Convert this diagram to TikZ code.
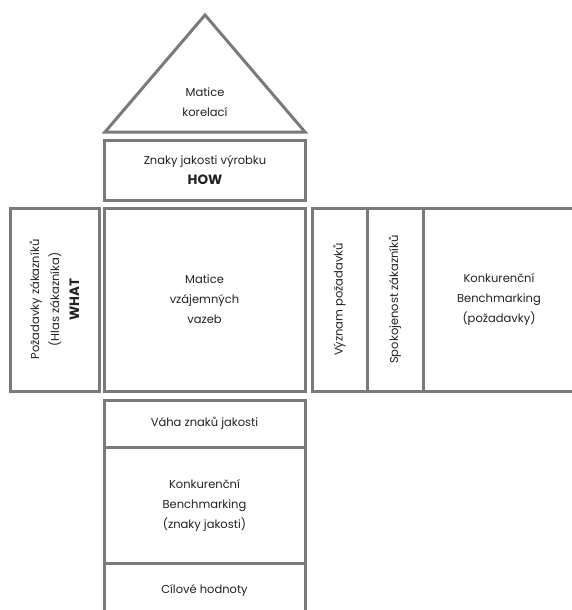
\documentclass[tikz,border=0pt]{standalone}
\usepackage{fontspec}
\setmainfont{Poppins}
\definecolor{frame}{HTML}{7A7A7A}
\definecolor{ink}{HTML}{222222}
\newcommand{\keyword}[1]{{\fontsize{13.5}{20}\selectfont\bfseries #1}}
\tikzset{
  box/.style={draw=frame, line width=3pt, rectangle, inner sep=0pt},
  lbl/.style={align=center, text=ink, inner sep=0pt,
    font=\fontsize{11.5}{20}\selectfont},
}
\begin{document}
\begin{tikzpicture}[x=1pt,y=-1pt]
\useasboundingbox (0,0) rectangle (571,610);

% roof: correlation matrix
\coordinate (rl) at (105,132);
\coordinate (ra) at (205,15);
\coordinate (rr) at (305,132);
\draw[frame, line width=3pt, line join=miter] (rl) -- (ra) -- (rr) -- cycle;
\node[lbl] (roof) at (205,102) {Matice\\korelací};

% technical characteristics
\node[box, minimum width=201pt, minimum height=60pt] (how) at (205,170) {};
\node[lbl] at (how) {Znaky jakosti výrobku\\\keyword{HOW}};

% customer requirements
\node[box, minimum width=89pt, minimum height=183pt] (what) at (54.5,299.5) {};
\node[lbl, rotate=90] at (what) {Požadavky zákazníků\\(Hlas zákazníka)\\\keyword{WHAT}};

% relationship matrix
\node[box, minimum width=201pt, minimum height=183pt] (rel) at (204.5,299.5) {};
\node[lbl] at (rel) {Matice\\vzájemných\\vazeb};

% planning matrix
\node[box, minimum width=55pt, minimum height=183pt] (imp) at (339.5,299.5) {};
\node[lbl, rotate=90] at (imp) {Význam požadavků};
\node[box, minimum width=56pt, minimum height=183pt] (sat) at (395,299.5) {};
\node[lbl, rotate=90] at (sat) {Spokojenost zákazníků};
\node[box, minimum width=152pt, minimum height=183pt] (bench) at (499,299.5) {};
\node[lbl] at (bench) {Konkurenční\\Benchmarking\\(požadavky)};

% foundation
\node[box, minimum width=201pt, minimum height=47pt] (weight) at (204.5,423.5) {};
\node[lbl] at (weight) {Váha znaků jakosti};
\node[box, minimum width=201pt, minimum height=116pt] (tbench) at (204.5,505) {};
\node[lbl] at (tbench) {Konkurenční\\Benchmarking\\(znaky jakosti)};
\node[box, minimum width=201pt, minimum height=54pt] (target) at (204.5,590) {};
\node[lbl] at (target) {Cílové hodnoty};
\end{tikzpicture}
\end{document}
